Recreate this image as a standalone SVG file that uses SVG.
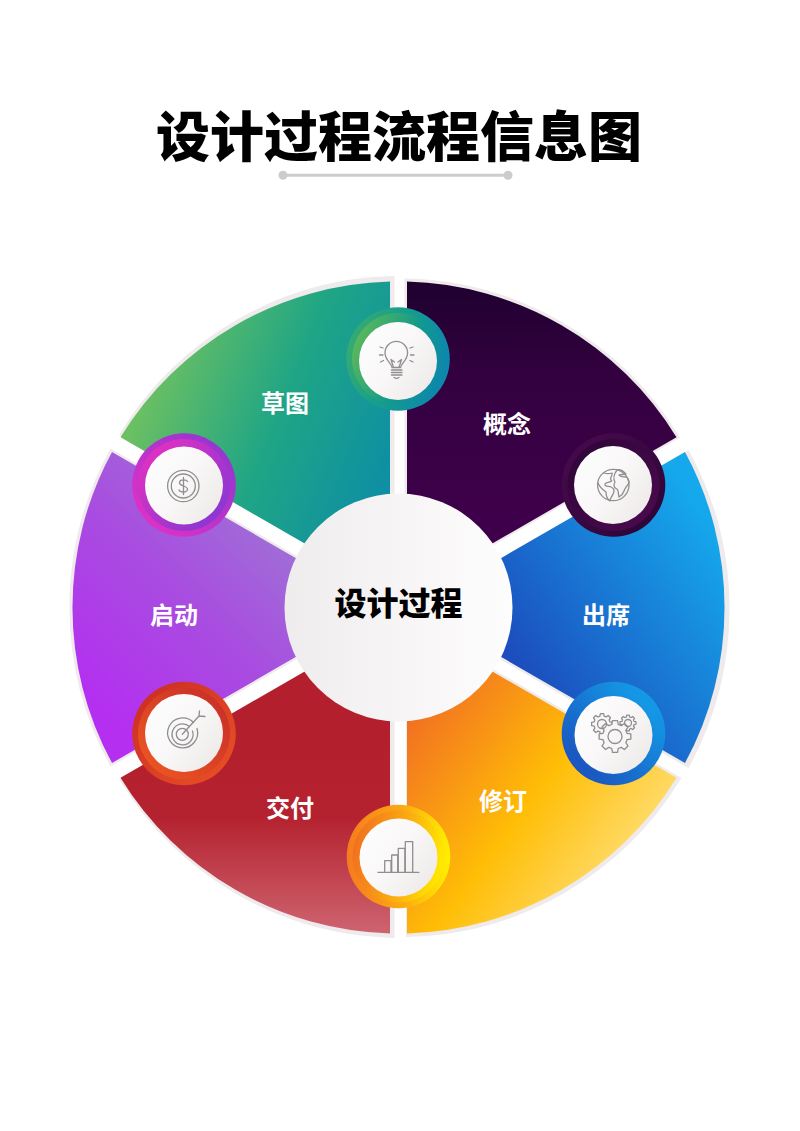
<svg xmlns="http://www.w3.org/2000/svg" xmlns:xlink="http://www.w3.org/1999/xlink" width="800" height="1131" viewBox="0 0 800 1131">
<style>
text{font-family:"Noto Sans CJK SC","Noto Sans",sans-serif;text-anchor:middle}
.title{font-size:54px;font-weight:900;fill:#000}
.hub{font-size:32px;font-weight:900;fill:#000}
.lbl{font-size:24px;font-weight:700;fill:#fff}
.edge{fill:#efeaec;stroke:#efeaec;stroke-width:5;stroke-linejoin:miter}
.ico,.ico *{fill:none;stroke:#8f8f8f;stroke-width:1.3;stroke-linecap:round;stroke-linejoin:round}
.gear{fill:#f7f5f5;stroke:#8f8f8f;stroke-width:1.3;stroke-linejoin:round}
.disc{fill:url(#gDisc)}
</style>
<defs>
<linearGradient id="gA" gradientUnits="userSpaceOnUse" x1="0" y1="285" x2="0" y2="545"><stop offset="0" stop-color="#1f0130"/><stop offset=".35" stop-color="#33013f"/><stop offset="1" stop-color="#40004c"/></linearGradient>
<linearGradient id="gB" gradientUnits="userSpaceOnUse" x1="510" y1="660" x2="710" y2="520"><stop offset="0" stop-color="#1c4cbd"/><stop offset="1" stop-color="#15a8ec"/></linearGradient>
<linearGradient id="gC" gradientUnits="userSpaceOnUse" x1="420" y1="700" x2="660" y2="880"><stop offset="0" stop-color="#f26f22"/><stop offset=".5" stop-color="#ffbe06"/><stop offset="1" stop-color="#ffe58c"/></linearGradient>
<linearGradient id="gD" gradientUnits="userSpaceOnUse" x1="0" y1="740" x2="0" y2="935"><stop offset="0" stop-color="#b41f2e"/><stop offset=".4" stop-color="#b5222f"/><stop offset="1" stop-color="#ce6571"/></linearGradient>
<linearGradient id="gE" gradientUnits="userSpaceOnUse" x1="110" y1="720" x2="290" y2="540"><stop offset="0" stop-color="#b42ff0"/><stop offset=".55" stop-color="#a84de0"/><stop offset="1" stop-color="#9f6fd6"/></linearGradient>
<linearGradient id="gF" gradientUnits="userSpaceOnUse" x1="140" y1="400" x2="390" y2="500"><stop offset="0" stop-color="#6cc062"/><stop offset=".5" stop-color="#1fa585"/><stop offset="1" stop-color="#0d8da6"/></linearGradient>
<linearGradient id="gDisc" x1="0" y1="0" x2="1" y2=".7"><stop offset="0" stop-color="#fff"/><stop offset=".55" stop-color="#f9f7f7"/><stop offset="1" stop-color="#efebeb"/></linearGradient>
<linearGradient id="gHub" x1="0" y1="0" x2="1" y2="0"><stop offset="0" stop-color="#efeced"/><stop offset="1" stop-color="#fefdfd"/></linearGradient>
<linearGradient id="r1a" x1="0" y1="0" x2="1" y2=".3"><stop offset="0" stop-color="#3fae6c"/><stop offset=".5" stop-color="#16a08a"/><stop offset="1" stop-color="#0d88ab"/></linearGradient>
<linearGradient id="r1b" x1="0" y1=".2" x2="1" y2=".6"><stop offset="0" stop-color="#62bb55"/><stop offset=".6" stop-color="#129a8c"/><stop offset="1" stop-color="#0d88ab"/></linearGradient>
<linearGradient id="r2a" x1="0" y1="0" x2="1" y2="1"><stop offset="0" stop-color="#4a0a4f"/><stop offset="1" stop-color="#2a0535"/></linearGradient>
<linearGradient id="r2b" x1="0" y1="0" x2="1" y2="1"><stop offset="0" stop-color="#2c0636"/><stop offset="1" stop-color="#4d0a50"/></linearGradient>
<linearGradient id="r3a" x1="0" y1="1" x2="1" y2="0"><stop offset="0" stop-color="#1c48b8"/><stop offset="1" stop-color="#12a8ee"/></linearGradient>
<linearGradient id="r4a" x1="0" y1="0" x2="1" y2="0"><stop offset="0" stop-color="#f47b20"/><stop offset=".55" stop-color="#fdaa10"/><stop offset="1" stop-color="#fff000"/></linearGradient>
<linearGradient id="r4b" x1="0" y1=".2" x2="1" y2=".4"><stop offset="0" stop-color="#f26a20"/><stop offset=".6" stop-color="#fbb010"/><stop offset="1" stop-color="#ffe800"/></linearGradient>
<linearGradient id="r5a" x1="0" y1="0" x2="1" y2="1"><stop offset="0" stop-color="#c92b25"/><stop offset="1" stop-color="#ea5224"/></linearGradient>
<linearGradient id="r5b" x1="0" y1="1" x2="1" y2="0"><stop offset="0" stop-color="#f05a22"/><stop offset="1" stop-color="#c52a28"/></linearGradient>
<linearGradient id="r6a" x1="0" y1="1" x2="1" y2="0"><stop offset="0" stop-color="#ea30c4"/><stop offset="1" stop-color="#8a36d2"/></linearGradient>
<linearGradient id="r6b" x1="0" y1="0" x2="1" y2="1"><stop offset="0" stop-color="#ee30c0"/><stop offset="1" stop-color="#7a38d4"/></linearGradient>
<path id="sA" d="M407 592.800L407 281.600A326 326 0 0 1 676.500 437.200Z"/>
<path id="sB" d="M415.500 607.500L685 451.900A326 326 0 0 1 685 763.100Z"/>
<path id="sC" d="M407 622.200L676.500 777.800A326 326 0 0 1 407 933.400Z"/>
<path id="sD" d="M390 622.200L390 933.400A326 326 0 0 1 120.500 777.800Z"/>
<path id="sE" d="M381.500 607.500L112 763.100A326 326 0 0 1 112 451.900Z"/>
<path id="sF" d="M390 592.800L120.500 437.200A326 326 0 0 1 390 281.600Z"/>
<polygon id="gear" vector-effect="non-scaling-stroke" points="75,-20 99,-16 99,16 75,20 68,39 81,59 59,81 39,68 20,75 16,99 -16,99 -20,75 -39,68 -59,81 -81,59 -68,39 -75,20 -99,16 -99,-16 -75,-20 -68,-39 -81,-59 -59,-81 -39,-68 -20,-75 -16,-99 16,-99 20,-75 39,-68 59,-81 81,-59 68,-39"/>
</defs>
<rect width="800" height="1131" fill="#fff"/>
<g id="title">
<text class="title" x="399" y="157">设计过程流程信息图</text>
<line x1="283" y1="175.300" x2="508" y2="175.300" stroke="#cccccc" stroke-width="3"/>
<circle cx="283" cy="175.300" r="4.500" fill="#cccccc"/>
<circle cx="508" cy="175.300" r="4.500" fill="#cccccc"/>
</g>
<g id="rim">
<use xlink:href="#sA" class="edge" transform="translate(0 -.5)"/>
<use xlink:href="#sB" class="edge" transform="translate(2.500 1.500)"/>
<use xlink:href="#sC" class="edge" transform="translate(1.500 1)"/>
<use xlink:href="#sD" class="edge" transform="translate(2 2)"/>
<use xlink:href="#sE" class="edge" transform="translate(-.5 0)"/>
<use xlink:href="#sF" class="edge" transform="translate(2 -3)"/>
</g>
<g id="seg-gainian"><use xlink:href="#sA" fill="url(#gA)"/><text class="lbl" x="507" y="433">概念</text></g>
<g id="seg-chuxi"><use xlink:href="#sB" fill="url(#gB)"/><text class="lbl" x="606" y="624">出席</text></g>
<g id="seg-xiuding"><use xlink:href="#sC" fill="url(#gC)"/><text class="lbl" x="503" y="810">修订</text></g>
<g id="seg-jiaofu"><use xlink:href="#sD" fill="url(#gD)"/><text class="lbl" x="290" y="817">交付</text></g>
<g id="seg-qidong"><use xlink:href="#sE" fill="url(#gE)"/><text class="lbl" x="174" y="624">启动</text></g>
<g id="seg-caotu"><use xlink:href="#sF" fill="url(#gF)"/><text class="lbl" x="285" y="412">草图</text></g>
<g id="hub">
<circle cx="398.500" cy="607.500" r="114" fill="url(#gHub)"/>
<text class="hub" x="398.500" y="615">设计过程</text>
</g>
<g id="icon-bulb">
<circle cx="398" cy="359" r="51.800" fill="url(#r1a)"/><circle cx="398" cy="359" r="46" fill="url(#r1b)"/><circle cx="398" cy="361" r="39" class="disc"/>
<g class="ico">
<path d="M392 367.500c0-4-7-7-7-14.800a11.300 11.300 0 0 1 22.600 0c0 7.800-7 10.800-7 14.800z"/>
<path d="M393.500 367.500l-2.500-8 3.500 2.500M399 367.500l2.500-8-3.500 2.500"/>
<path d="M391.500 370h10.500M391.500 372.500h10.500M391.500 375h10.500M394 377.500c1.500 1 3.500 1 5 0"/>
<path d="M380 347l3 1M379.500 355h3.500M380.500 362l3-1.500M413 347l-3 1M414 355h-3.500M413 362l-3-1.500"/>
</g>
</g>
<g id="icon-globe">
<circle cx="613.500" cy="485" r="51.800" fill="url(#r2a)"/><circle cx="613.500" cy="485" r="46" fill="url(#r2b)"/><circle cx="613" cy="485" r="39" class="disc"/>
<g class="ico">
<circle cx="613.300" cy="485" r="15.700"/>
<path d="M604 473c3 1 5 1 8 0c1 3-3 5-1 7c3 2-5 2-6 4c-1 3 4 2 6 3c3 1 4 4 2 7c-1 3-3 4-3 7c-3-2-4-6-4-9c-3-2-6-4-8-9"/>
<path d="M617 470c3-1 6 1 9 4c-2 1-5 0-7 1c1 2 4 2 7 2c2 1 3 3 3 6c-2 3-4 5-5 8c-1 3-3 5-5 6c-1-3 0-6-2-8c-3-1-4-4-2-7c-2-3-1-8 2-12z"/>
</g>
</g>
<g id="icon-gears">
<circle cx="613.500" cy="733.500" r="51.800" fill="url(#r3a)"/><circle cx="613.500" cy="733.500" r="46" fill="url(#r3a)"/><circle cx="613.500" cy="735" r="39" class="disc"/>
<use xlink:href="#gear" class="gear" transform="translate(602 724) scale(.105)"/>
<use xlink:href="#gear" class="gear" transform="translate(628 723) scale(.08)"/>
<use xlink:href="#gear" class="gear" transform="translate(615 736.500) scale(.16)"/>
<g class="ico"><circle cx="602" cy="724" r="4.500"/><circle cx="628" cy="723" r="3.500"/><circle cx="615" cy="736.500" r="7"/></g>
</g>
<g id="icon-bars">
<circle cx="398.500" cy="856.500" r="51.800" fill="url(#r4a)"/><circle cx="398.500" cy="856.500" r="46" fill="url(#r4b)"/><circle cx="398.500" cy="857.500" r="39" class="disc"/>
<g class="ico">
<path d="M378 872.300h41"/>
<path d="M384.700 872.300v-11.600h6.300v11.600M391.700 872.300v-17.300h6v17.300M398.300 872.300v-24h6.500v24M405.300 872.300v-30.600h7.400v30.600"/>
</g>
</g>
<g id="icon-target">
<circle cx="184" cy="733.500" r="51.800" fill="url(#r5a)"/><circle cx="184" cy="733.500" r="46" fill="url(#r5b)"/><circle cx="184" cy="733" r="39" class="disc"/>
<g class="ico">
<path d="M193.500 722.500a15 15 0 1 0 3.500 6"/>
<path d="M189.500 726.500a10.500 10.500 0 1 0 3 4.500"/>
<circle cx="182.300" cy="734.300" r="6"/>
<path d="M182.300 734.300L199 716M199 716l.5-5M199 716l6 .5"/>
</g>
</g>
<g id="icon-dollar">
<circle cx="184" cy="485" r="51.800" fill="url(#r6a)"/><circle cx="184" cy="485" r="46" fill="url(#r6b)"/><circle cx="184" cy="485.500" r="39" class="disc"/>
<g class="ico">
<circle cx="183.300" cy="486" r="15.700"/><circle cx="183.300" cy="486" r="12"/>
<path d="M187.500 481.500c-1-2-7.500-2.500-8 1c-.5 4 8.500 3 8 7c-.5 3.500-7.500 3-8.500 .5M183.500 477.500v17"/>
</g>
</g>
</svg>
